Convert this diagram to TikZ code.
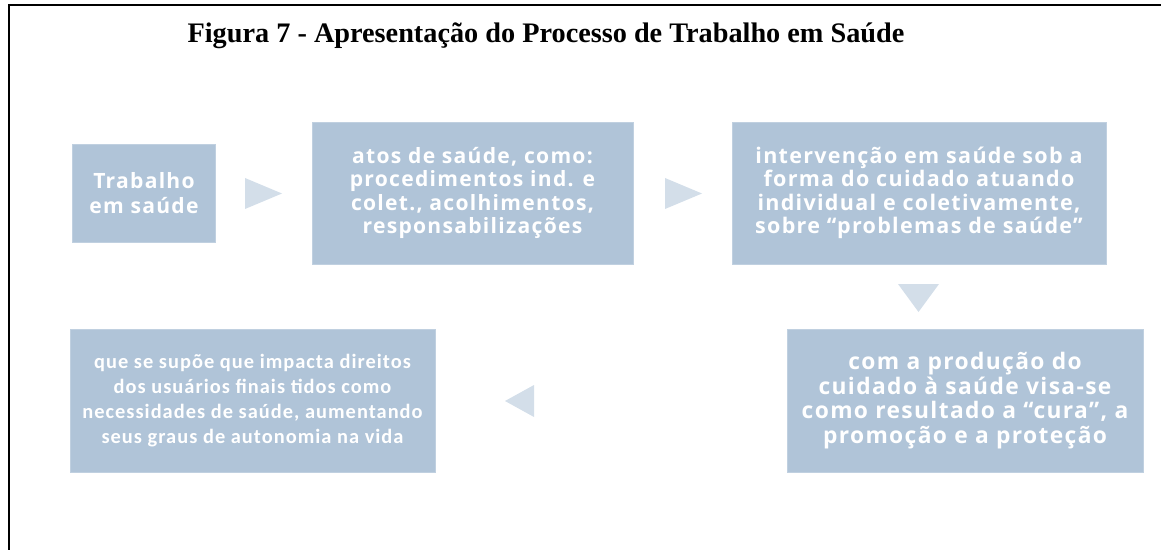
\documentclass[tikz,border=0pt]{standalone}
\usepackage{fontspec}
\setmainfont{Liberation Serif}
\newfontfamily\boxfont[LetterSpace=6]{Open Sans}
\newfontfamily\narrowfont[LetterSpace=5]{Carlito}
\usetikzlibrary{positioning}
\definecolor{boxblue}{HTML}{B0C4D8}
\definecolor{tipblue}{HTML}{D3DEE9}

\begin{document}
\begin{tikzpicture}[x=0.025cm, y=-0.025cm,
  stepbox/.style={fill=boxblue, draw=boxblue!80!white, text=white, align=center, inner sep=0pt,
    font=\boxfont\bfseries\fontsize{15}{16.5}\selectfont},
  tip/.style={fill=tipblue, draw=none}]
\useasboundingbox (0,0) rectangle (1161,550);
\draw[line width=1.4pt] (9,550) -- (9,5) -- (1161,5);
\node[font=\bfseries\fontsize{20.1}{24}\selectfont, anchor=base] (title) at (546,43) {Figura 7 - Apresentação do Processo de Trabalho em Saúde};
\node[stepbox, minimum width=3.575cm, minimum height=2.45cm, font=\boxfont\bfseries\fontsize{15}{17.8}\selectfont] (trab) at (144,193) {Trabalho\\em saúde};
\node[stepbox, minimum width=8.025cm, minimum height=3.55cm] (atos) at (472.5,193) {atos de saúde, como:\\procedimentos ind. e\\colet., acolhimentos,\\responsabilizações};
\node[stepbox, minimum width=9.35cm, minimum height=3.55cm, font=\boxfont\bfseries\fontsize{15.3}{16.6}\selectfont] (interv) at (919,193) {intervenção em saúde sob a\\forma do cuidado atuando\\individual e coletivamente,\\sobre “problemas de saúde”};
\node[stepbox, minimum width=8.9cm, minimum height=3.575cm, font=\boxfont\bfseries\fontsize{16.2}{17.6}\selectfont] (prod) at (965,400.5) {com a produção do\\cuidado à saúde visa-se\\como resultado a “cura”, a\\promoção e a proteção};
\node[stepbox, minimum width=9.125cm, minimum height=3.575cm, font=\narrowfont\bfseries\fontsize{14.5}{17.6}\selectfont] (direitos) at (252.5,400.5) {que se supõe que impacta direitos\\dos usuários finais tidos como\\necessidades de saúde, aumentando\\seus graus de autonomia na vida};
% triangles between the boxes
\fill[tip] (245,178) -- (282,193.5) -- (245,209) -- cycle;
\fill[tip] (665,178) -- (702,193.5) -- (665,209) -- cycle;
\fill[tip] (898,284) -- (939,284) -- (918.5,312) -- cycle;
\fill[tip] (534,385) -- (505,401) -- (534,417) -- cycle;
\end{tikzpicture}
\end{document}
